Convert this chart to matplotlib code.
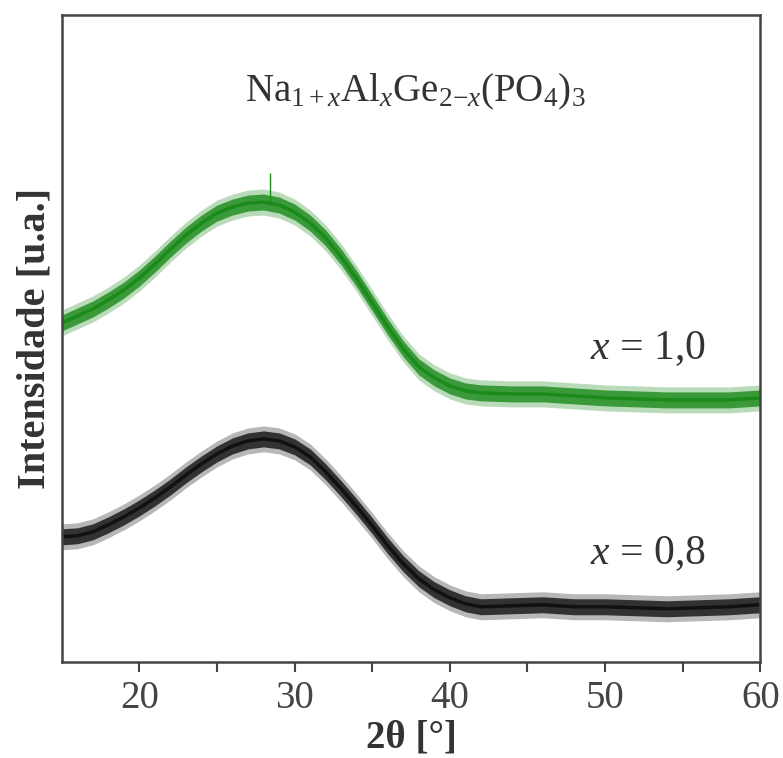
import matplotlib
matplotlib.use('Agg')
import matplotlib.pyplot as plt
import numpy as np

plt.rcParams['font.family'] = ['Liberation Serif', 'DejaVu Serif']
plt.rcParams['mathtext.fontset'] = 'custom'
plt.rcParams['mathtext.rm'] = 'Liberation Serif'
plt.rcParams['mathtext.it'] = 'Liberation Serif:italic'

# 2theta positions (degrees) and intensities (arb. units)
two_theta = [15, 16, 17, 18, 19, 20, 21, 22, 23, 24, 25, 26, 27, 28, 29, 30,
             31, 32, 33, 34, 35, 36, 37, 38, 39, 40, 41, 42, 44, 46, 48, 50,
             52, 54, 56, 58, 60]
x10 = [339, 346, 353, 362, 372, 384, 398, 413, 427, 439, 449, 455, 459, 460,
       457, 450, 439, 424, 405, 383, 359, 335, 313, 295, 284, 276, 271, 269,
       268, 268, 266, 264, 263, 262, 262, 262, 264]
x08 = [125, 126, 130, 137, 145, 154, 164, 175, 187, 198, 208, 216, 221, 223,
       221, 215, 205, 190, 173, 155, 136, 116, 98, 83, 72, 64, 58, 55, 56, 57,
       55, 55, 54, 53, 54, 55, 57]
# single sharp spike on top of the x = 1,0 hump
spike_pos = 28.4
spike_top = 489
noise_outer = 13  # half widths of the noise band seen in the picture
noise_inner = 8

series = [(x10, '#1a8a1a', '$x$ = 1,0', 313),
          (x08, '#111111', '$x$ = 0,8', 108)]

fig = plt.figure(figsize=(7.83, 7.58), dpi=100)
ax = fig.add_axes([0.079, 0.127, 0.892, 0.853])

for y, col, lab, ly in series:
    y = np.array(y)
    ax.fill_between(two_theta, y - noise_outer, y + noise_outer, color=col,
                    alpha=0.3, lw=0)
    ax.fill_between(two_theta, y - noise_inner, y + noise_inner, color=col,
                    alpha=0.8, lw=0)
    ax.plot(two_theta, y, color=col, lw=2.5)
    ax.text(56.5, ly, lab, ha='right', va='center', fontsize=30, color='#333333')

ax.vlines(spike_pos, x10[13], spike_top, color='#1a8a1a', lw=1)

ax.text(37.8, 570, r'Na$_{1+x}$Al$_x$Ge$_{2\mathrm{-}x}$(PO$_4$)$_3$',
        ha='center', va='center', fontsize=28, color='#333333')

ax.set_xlim(15, 60)
ax.set_ylim(0, 647)
ax.set_xticks([20, 30, 40, 50, 60])
ax.set_xticks([25, 35, 45, 55], minor=True)
ax.set_yticks([])
ax.tick_params(axis='x', which='both', direction='out', length=7, width=1.5,
               labelsize=28, labelcolor='#444444', color='#444444', pad=6)
for s in ax.spines.values():
    s.set_linewidth(1.8)
    s.set_color('#444444')

ax.set_xlabel('2θ [°]', fontsize=28, fontweight='bold', labelpad=2, color='#333333')
ax.set_ylabel('Intensidade [u.a.]', fontsize=29, fontweight='bold', labelpad=6,
              color='#333333')

fig.savefig('out.png', dpi=100)
